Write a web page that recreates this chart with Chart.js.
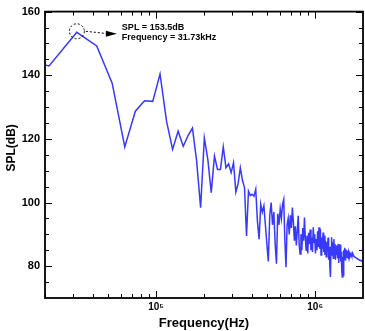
<!DOCTYPE html>
<html>
<head>
<meta charset="utf-8">
<script src="https://cdn.jsdelivr.net/npm/chart.js@4/dist/chart.umd.min.js"></script>
<style>
  html, body { margin: 0; padding: 0; background: #fff; }
  canvas { display: block; }
</style>
</head>
<body>
<canvas id="spl-chart" width="365" height="331"></canvas>
<script>
// FFT bins, kHz
const freqKHz = [
  10.6, 21.2, 31.7, 42.3, 52.9, 63.5, 74.0, 84.6, 95.2, 105.8,
  116.3, 126.9, 137.5, 148.1, 158.7, 169.2, 179.8, 190.4, 201.0, 211.5,
  222.1, 232.7, 243.3, 253.8, 264.4, 275.0, 285.6, 296.2, 306.7, 317.3,
  327.9, 338.5, 349.0, 359.6, 370.2, 380.8, 391.3, 401.9, 412.5, 423.1,
  433.7, 444.2, 454.8, 465.4, 476.0, 486.5, 497.1, 507.7, 518.3, 528.9,
  539.4, 550.0, 560.6, 571.2, 581.7, 592.3, 602.9, 613.5, 624.0, 634.6,
  645.2, 655.8, 666.4, 676.9, 687.5, 698.1, 708.7, 719.2, 729.8, 740.4,
  751.0, 761.5, 772.1, 782.7, 793.3, 803.9, 814.4, 825.0, 835.6, 846.2,
  856.7, 867.3, 877.9, 888.5, 899.0, 909.6, 920.2, 930.8, 941.4, 951.9,
  962.5, 973.1, 983.7, 994.2, 1004.8, 1015.4, 1026.0, 1036.5, 1047.1, 1057.7,
  1068.3, 1078.9, 1089.4, 1100.0, 1110.6, 1121.2, 1131.7, 1142.3, 1152.9, 1163.5,
  1174.0, 1184.6, 1195.2, 1205.8, 1216.4, 1226.9, 1237.5, 1248.1, 1258.7, 1269.2,
  1279.8, 1290.4, 1301.0, 1311.5, 1322.1, 1332.7, 1343.3, 1353.9, 1364.4, 1375.0,
  1385.6, 1396.2, 1406.7, 1417.3, 1427.9, 1438.5, 1449.0, 1459.6, 1470.2, 1480.8,
  1491.4, 1501.9, 1512.5, 1523.1, 1533.7, 1544.2, 1554.8, 1565.4, 1576.0, 1586.6,
  1597.1, 1607.7, 1618.3, 1628.9, 1639.4, 1650.0, 1660.6, 1671.2, 1681.7, 1692.3,
  1702.9, 1713.5, 1724.1, 1734.6, 1745.2, 1755.8, 1766.4, 1776.9, 1787.5, 1798.1,
  1808.7, 1819.2, 1829.8, 1840.4, 1851.0, 1861.6, 1872.1, 1882.7, 1893.3, 1903.9,
  1914.4, 1925.0, 1935.6, 1946.2, 1956.7, 1967.3, 1977.9, 1988.5, 1999.0, 2009.6
];

const splDb = [
  146.5, 142.9, 153.5, 149.2, 137.5, 117.5, 128.7, 132.0, 131.8, 140.4,
  125.5, 116.7, 122.4, 117.7, 121.0, 123.4, 113.0, 98.4, 120.3, 113.5,
  103.1, 114.6, 110.4, 110.4, 117.5, 110.9, 112.2, 109.4, 112.5, 103.3,
  106.0, 110.9, 107.0, 104.7, 89.5, 103.6, 102.2, 102.6, 102.0, 104.2,
  94.0, 88.5, 99.5, 97.0, 99.0, 93.0, 87.0, 81.5, 96.0, 100.0,
  93.0, 97.0, 87.0, 80.8, 96.5, 93.0, 98.0, 95.0, 99.5, 101.0,
  88.0, 79.7, 93.0, 95.0, 90.0, 96.0, 92.0, 98.4, 94.0, 88.0,
  92.5, 86.5, 91.0, 95.8, 87.0, 83.8, 90.0, 85.0, 92.0, 88.0,
  95.3, 89.0, 85.0, 89.6, 84.0, 90.5, 87.0, 91.5, 85.0, 89.0,
  84.5, 92.2, 87.5, 90.0, 84.0, 88.5, 85.0, 91.0, 86.0, 92.2,
  85.5, 91.7, 83.5, 89.0, 85.5, 90.6, 84.5, 89.6, 83.5, 88.0,
  83.0, 87.5, 84.5, 89.0, 82.0, 86.0, 80.0, 76.6, 86.0, 89.1,
  83.5, 87.5, 82.5, 88.5, 83.5, 87.0, 82.0, 86.5, 83.5, 86.5,
  82.5, 87.0, 81.0, 85.5, 82.5, 86.8, 81.5, 84.5, 79.0, 76.6,
  83.0, 77.1, 85.0, 82.5, 85.8, 82.0, 85.4, 82.8, 85.0, 83.5,
  84.8, 83.0, 84.4, 83.4, 84.0, 83.2, 83.8, 83.6, 84.0, 83.3,
  83.8, 83.4, 83.6, 83.2, 83.3, 83.0, 83.1, 82.9, 82.8, 82.8,
  82.6, 82.5, 82.5, 82.4, 82.3, 82.2, 82.2, 82.1, 82.0, 82.0,
  81.9, 81.9, 81.8, 81.8, 81.8, 81.7, 81.7, 81.7, 81.6, 81.6
];

const yMajor = [80, 100, 120, 140, 160];
const yMinor = [75, 85, 90, 95, 105, 110, 115, 125, 130, 135, 145, 150, 155];
const xMajor = [100, 1000];
const xMajorLabels = ['10⁵', '10⁶'];
const xMinor = [20, 30, 40, 50, 60, 70, 80, 90, 200, 300, 400, 500, 600, 700, 800, 900];
const yTitle = 'SPL(dB)';

const peakFreq = 31.73;
const peakSpl  = 153.5;
const peakText = ['SPL = 153.5dB', 'Frequency = 31.73kHz'];

const FONT = "'Liberation Sans', Arial, Helvetica, sans-serif";

// Tecplot-style frame: inward ticks on all four sides, y title, peak annotation
const framePlugin = {
  id: 'frame',
  afterDatasetsDraw(chart) {
    const { ctx, chartArea: a, scales: { x, y } } = chart;
    ctx.save();
    ctx.strokeStyle = '#000';
    ctx.lineWidth = 1.8;
    ctx.strokeRect(a.left, a.top, a.right - a.left, a.bottom - a.top);

    ctx.lineWidth = 1;
    ctx.beginPath();
    const yTick = (v, len) => {
      const py = Math.round(y.getPixelForValue(v)) + 0.5;
      ctx.moveTo(a.left, py);  ctx.lineTo(a.left + len, py);
      ctx.moveTo(a.right, py); ctx.lineTo(a.right - len, py);
    };
    const xTick = (v, len) => {
      const px = Math.round(x.getPixelForValue(v)) + 0.5;
      ctx.moveTo(px, a.bottom); ctx.lineTo(px, a.bottom - len);
      ctx.moveTo(px, a.top);    ctx.lineTo(px, a.top + len);
    };
    yMajor.forEach(v => yTick(v, 7));
    yMinor.forEach(v => yTick(v, 4));
    xMajor.forEach(v => xTick(v, 7));
    xMinor.forEach(v => xTick(v, 4));
    ctx.stroke();

    // y axis title, sits a little above the middle as in the original
    ctx.save();
    ctx.translate(12, (a.top + a.bottom) / 2 - 7);
    ctx.rotate(-Math.PI / 2);
    ctx.font = 'bold 12px ' + FONT;
    ctx.fillStyle = '#000';
    ctx.textAlign = 'center';
    ctx.textBaseline = 'middle';
    ctx.fillText(yTitle, 0, 0);
    ctx.restore();

    // peak marker
    const px = x.getPixelForValue(peakFreq);
    const py = y.getPixelForValue(peakSpl);
    ctx.setLineDash([2, 2]);
    ctx.beginPath();
    ctx.arc(px, py - 1, 7.5, 0, Math.PI * 2);
    ctx.stroke();
    ctx.beginPath();
    ctx.moveTo(px + 9, py - 1);
    ctx.lineTo(px + 30, py + 1.3);
    ctx.stroke();
    ctx.setLineDash([]);
    ctx.fillStyle = '#000';
    ctx.beginPath();
    ctx.moveTo(px + 40, py + 1.5);
    ctx.lineTo(px + 29, py - 1.5);
    ctx.lineTo(px + 29, py + 4.5);
    ctx.closePath();
    ctx.fill();

    ctx.font = 'bold 9px ' + FONT;
    ctx.textAlign = 'left';
    ctx.textBaseline = 'alphabetic';
    ctx.fillText(peakText[0], px + 45, py - 2);
    ctx.fillText(peakText[1], px + 45, py + 7.5);
    ctx.restore();
  }
};

new Chart(document.getElementById('spl-chart'), {
  type: 'line',
  data: {
    datasets: [{
      data: freqKHz.map((f, i) => ({ x: f, y: splDb[i] })),
      borderColor: '#3838ff',
      borderWidth: 1.5,
      pointRadius: 0,
      tension: 0,
      fill: false
    }]
  },
  options: {
    responsive: false,
    animation: false,
    layout: { padding: { top: 8, right: 2, left: 0, bottom: 0 } },
    plugins: { legend: { display: false }, tooltip: { enabled: false } },
    scales: {
      x: {
        type: 'logarithmic',
        min: 20, max: 2000,
        afterBuildTicks: s => { s.ticks = xMajor.map(v => ({ value: v })); },
        afterFit: s => { s.height = 33; },
        grid: { display: false, drawTicks: false },
        border: { display: false },
        ticks: {
          autoSkip: false, maxRotation: 0, padding: 3,
          color: '#000',
          font: { family: FONT, size: 10, weight: 'bold' },
          callback: v => xMajorLabels[xMajor.indexOf(v)] || ''
        },
        title: {
          display: true, text: 'Frequency(Hz)', color: '#000',
          font: { family: FONT, size: 13, weight: 'bold' },
          padding: { top: 0, bottom: 0 }
        }
      },
      y: {
        min: 70, max: 160,
        afterBuildTicks: s => { s.ticks = yMajor.map(v => ({ value: v })); },
        afterFit: s => { s.width = 45; },
        grid: { display: false, drawTicks: false },
        border: { display: false },
        ticks: {
          padding: 5, color: '#000',
          font: { family: FONT, size: 11, weight: 'bold' }
        }
      }
    }
  },
  plugins: [framePlugin]
});
</script>
</body>
</html>
